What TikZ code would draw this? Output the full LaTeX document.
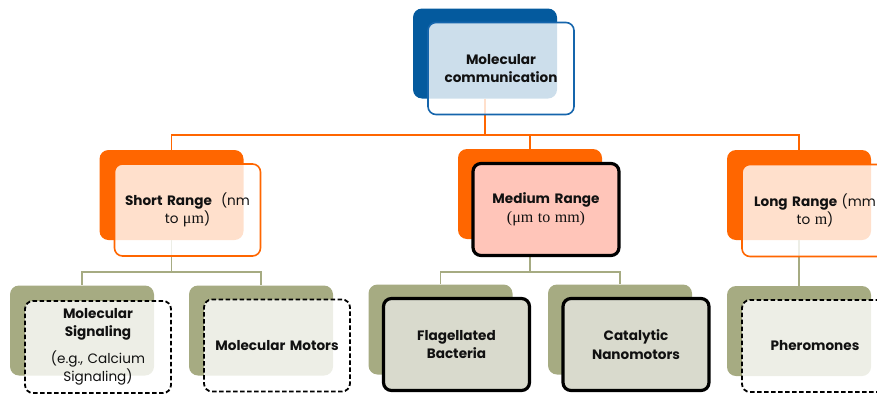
\documentclass[tikz,border=0pt]{standalone}
\usepackage{fontspec}
\setmainfont{Poppins}
\newfontfamily\serifpart{Liberation Serif}

\definecolor{deepblue}{HTML}{045A9E}
\definecolor{lineblue}{HTML}{1565AC}
\definecolor{hotorange}{HTML}{FF6600}
\definecolor{olive}{HTML}{A6AB82}
\definecolor{paleolive}{HTML}{D9DACD}
\definecolor{salmon}{HTML}{FFC5B9}
\definecolor{ink}{HTML}{111111}

\tikzset{
  backbox/.style={rectangle, rounded corners=9pt, minimum width=144pt,
    minimum height=90pt, inner sep=0pt, draw=none},
  frontbox/.style={rectangle, rounded corners=8pt, minimum width=146pt,
    minimum height=92pt, inner sep=0pt, align=center, text width=140pt,
    text=ink, font=\fontsize{13.6pt}{18.5pt}\selectfont},
  glassbox/.style={frontbox, fill=white, fill opacity=0.8, text opacity=1,
    line width=1.6pt},
  dashbox/.style={glassbox, draw=black, line width=1.8pt,
    dash pattern=on 4.5pt off 2.5pt},
  solidbox/.style={frontbox, draw=black, line width=3.2pt},
  orangeline/.style={draw=hotorange, line width=1.6pt},
  oliveline/.style={draw=olive, line width=1.6pt},
}
\newcommand{\serifbit}[1]{{\serifpart\fontsize{16pt}{18.5pt}\selectfont #1}}

\begin{document}
\begin{tikzpicture}[x=1pt, y=-1pt]
\useasboundingbox (0,0) rectangle (877,394);

% shadow blocks behind each card
\node[backbox, fill=deepblue]  (topB)   at (485,53.5) {};
\node[backbox, fill=hotorange] (shortB) at (171.5,195) {};
\node[backbox, fill=hotorange] (medB)   at (530,194) {};
\node[backbox, fill=hotorange] (longB)  at (799,195) {};
\node[backbox, fill=olive]     (sigB)   at (82,330.5) {};
\node[backbox, fill=olive]     (motB)   at (261,330.5) {};
\node[backbox, fill=olive]     (flaB)   at (440.5,329.5) {};
\node[backbox, fill=olive]     (catB)   at (620,329.5) {};
\node[backbox, fill=olive]     (pheB)   at (799,331) {};

% tree connectors
\draw[orangeline] (topB.south) -- ++(0,36) coordinate (j0);
\draw[orangeline] (j0) -| (shortB.north);
\draw[orangeline] (j0) -| (medB.north);
\draw[orangeline] (j0) -| (longB.north);

\draw[oliveline] (shortB.south) -- ++(0,32) coordinate (j1);
\draw[oliveline] (j1) -| (sigB.north);
\draw[oliveline] (j1) -| (motB.north);

\draw[oliveline] (medB.south) -- ++(0,33) coordinate (j2);
\draw[oliveline] (j2) -| (flaB.north);
\draw[oliveline] (j2) -| (catB.north);

\draw[oliveline] (longB.south) -- (pheB.north);

% cards
\node[glassbox, draw=lineblue] (top) at (501,68.5)
  {\textbf{Molecular}\\\textbf{communication}};
\node[glassbox, draw=hotorange] (short) at (187.5,210)
  {\textbf{Short Range} \ (nm\\to \serifbit{μm})};
\node[solidbox, fill=salmon] (med) at (546,209.5)
  {\textbf{Medium Range}\\\serifbit{(μm to mm)}};
\node[glassbox, draw=hotorange] (long) at (815,210.5)
  {\textbf{Long Range} (mm\\to \serifbit{m})};
\node[dashbox] (sig) at (98,347)
  {\textbf{Molecular}\\\textbf{Signaling}\\[8pt](e.g., Calcium\\Signaling)};
\node[dashbox] (mot) at (277,345.5) {\textbf{Molecular Motors}};
\node[solidbox, fill=paleolive] (fla) at (456.5,344.5)
  {\textbf{Flagellated}\\\textbf{Bacteria}};
\node[solidbox, fill=paleolive] (cat) at (636,344.5)
  {\textbf{Catalytic}\\\textbf{Nanomotors}};
\node[dashbox] (phe) at (815,346) {\textbf{Pheromones}};
\end{tikzpicture}
\end{document}
